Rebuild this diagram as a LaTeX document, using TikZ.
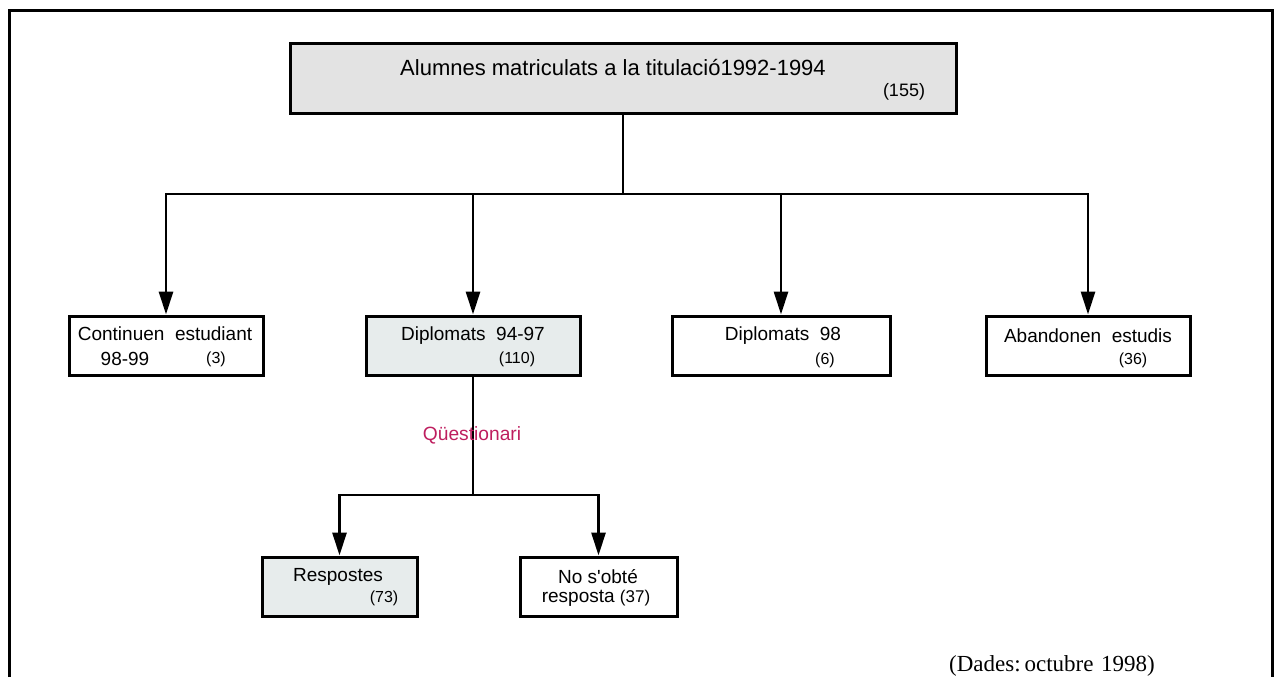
\documentclass[tikz,border=0pt]{standalone}
\usepackage{fontspec}
\setmainfont{Liberation Sans}
\newfontfamily\datesfont{Liberation Serif}
\usetikzlibrary{arrows.meta}
\definecolor{topgray}{RGB}{227, 227, 227}
\definecolor{keptgray}{RGB}{231, 236, 236}
\definecolor{quesmagenta}{RGB}{190, 30, 95}
\tikzset{
    box text/.style={
        font=\fontsize{9.5pt}{11pt}\selectfont,
        inner sep=0pt
    },
    count text/.style={
        font=\fontsize{8pt}{10pt}\selectfont,
        inner sep=0pt
    }
}

\begin{document}
\begin{tikzpicture}[x=0.5pt, y=-0.5pt, line width=1.4pt, >={Triangle[length=11.5pt, width=7pt]}]

    \tikzstyle{flowbox} = [
        rectangle,
        draw=black,
        line width=1.5pt,
        minimum height=29.5pt,
        inner sep=0pt
    ]

    \useasboundingbox (0,0) rectangle (1278,677);

    % Marc exterior
    \draw[line width=1.5pt] (9,677) |- (1272,10) -- (1272,677);

    % Caixes
    \node[flowbox, fill=topgray, minimum width=333pt, minimum height=35pt] (total) at (623,78) {};
    \node[flowbox, minimum width=97pt] (continuen) at (166,345.5) {};
    \node[flowbox, fill=keptgray, minimum width=107pt] (diplomats) at (473,345.5) {};
    \node[flowbox, minimum width=109pt] (diplomats98) at (781,345.5) {};
    \node[flowbox, minimum width=102pt] (abandonen) at (1088,345.5) {};
    \node[flowbox, fill=keptgray, minimum width=77.5pt] (respostes) at (339.5,586.5) {};
    \node[flowbox, minimum width=78.5pt] (noresposta) at (598.5,586.5) {};

    % Textos
    \node[box text, font=\fontsize{11pt}{13pt}\selectfont] (t-total) at (613,67) {Alumnes matriculats a la titulació1992-1994};
    \node[count text, font=\fontsize{9pt}{11pt}\selectfont] (n-total) at (904,92) {(155)};
    \node[box text] (t-continuen) at (165,334) {Continuen\ \ estudiant};
    \node[box text] (t-curs) at (125,359) {98-99};
    \node[count text] (n-continuen) at (216,359) {(3)};
    \node[box text] (t-diplomats) at (473,336) {Diplomats\ \ 94-97};
    \node[count text] (n-diplomats) at (517,359) {(110)};
    \node[box text] (t-diplomats98) at (783,336) {Diplomats\ \ 98};
    \node[count text] (n-diplomats98) at (825,360) {(6)};
    \node[box text] (t-abandonen) at (1088,336) {Abandonen\ \ estudis};
    \node[count text] (n-abandonen) at (1133,360) {(36)};
    \node[box text] (t-respostes) at (338,577) {Respostes};
    \node[count text] (n-respostes) at (384,598) {(73)};
    \node[box text] (t-noresposta) at (598,577) {No s\textquotesingle obté};
    \node[box text] (t-resposta) at (596,598) {resposta\ {\fontsize{8.5pt}{10pt}\selectfont(37)}};

    % Punts de repartiment
    \coordinate (split) at (623,194);
    \coordinate (split2) at (473,495);

    % Connectors
    \draw (total) -- (split);
    \path[->]
        (split) edge [to path={-| (\tikztotarget)}] (continuen)
                edge [to path={-| (\tikztotarget)}] (diplomats)
                edge [to path={-| (\tikztotarget)}] (diplomats98)
                edge [to path={-| (\tikztotarget)}] (abandonen);
    \draw (diplomats) -- (split2);
    \path[->]
        (split2) edge [to path={-| (\tikztotarget)}] (respostes)
                 edge [to path={-| (\tikztotarget)}] (noresposta);

    \node[text=quesmagenta, font=\fontsize{9.6pt}{11pt}\selectfont, inner sep=0pt] (questionari) at (472,435) {Qüestionari};

    \node[font=\datesfont\fontsize{11.5pt}{13pt}\selectfont, inner sep=0pt] (dades) at (1052,666) {(Dades:\,octubre\,\,1998)};

\end{tikzpicture}
\end{document}
